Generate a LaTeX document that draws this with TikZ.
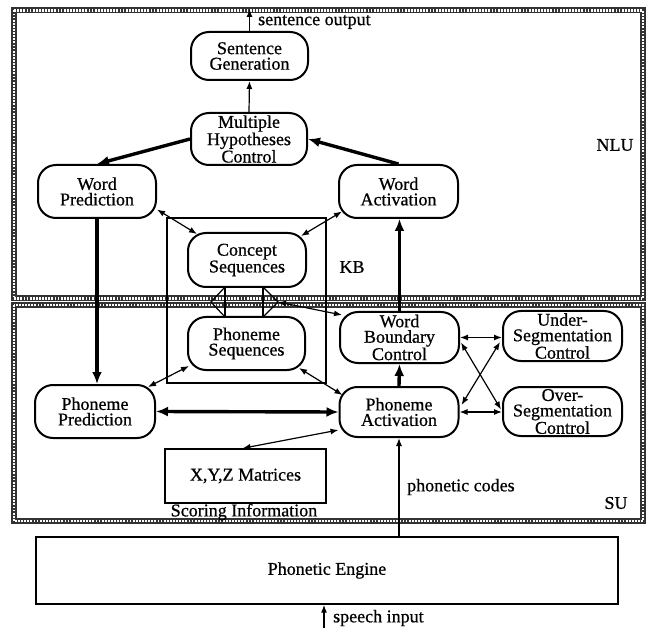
\documentclass[tikz,border=0pt]{standalone}
\usepackage{fontspec}
\setmainfont{Liberation Serif}[FakeBold=0.7]
\usetikzlibrary{arrows.meta,calc}
\begin{document}
\begin{tikzpicture}[x=1pt,y=-1pt,
  proc/.style={draw, line width=2pt, rounded corners=18pt, align=center, inner sep=0pt, font=\fontsize{18}{15.5}\selectfont},
  conn/.style={line width=1.2pt, -{Latex[length=8pt,width=6pt]}},
  connboth/.style={line width=1.2pt, {Latex[length=8pt,width=6pt]}-{Latex[length=8pt,width=6pt]}},
  heavy/.style={line width=3.4pt, -{Latex[length=12pt,width=10pt]}},
  heavyboth/.style={line width=3.4pt, {Latex[length=12pt,width=10pt]}-{Latex[length=12pt,width=10pt]}},
  lbl/.style={font=\fontsize{18}{15.5}\selectfont, inner sep=0pt},
  frameband/.style={line width=6pt, black!80},
  framedots/.style={line width=2.6pt, white, dash pattern=on 1.8pt off 1.3pt},
  plainbox/.style={draw, line width=1.4pt, inner sep=0pt, font=\fontsize{18}{15.5}\selectfont}
]
\useasboundingbox (0,0) rectangle (648,628);

% frames
\draw[frameband] (14,10.5) rectangle (643,298.5);
\draw[framedots] (14,10.5) rectangle (643,298.5);
\draw[frameband] (14,305) rectangle (643,521);
\draw[framedots] (14,305) rectangle (643,521);

% KB rectangle
\draw[line width=1.1pt] (167,218) rectangle (326,383);

% nodes
\node[proc, minimum width=117pt, minimum height=48pt] (sg) at (249.5,56) {Sentence\\Generation};
\node[proc, minimum width=116pt, minimum height=52pt] (mhc) at (249,139) {Multiple\\Hypotheses\\Control};
\node[proc, minimum width=118pt, minimum height=53pt] (wp) at (97,191.5) {Word\\Prediction};
\node[proc, minimum width=119pt, minimum height=53pt] (wa) at (398.5,191.5) {Word\\Activation};
\node[proc, minimum width=118pt, minimum height=54pt] (cs) at (247,260) {Concept\\Sequences};
\node[proc, minimum width=117pt, minimum height=53pt] (ps) at (246.5,343.5) {Phoneme\\Sequences};
\node[proc, minimum width=119pt, minimum height=51pt] (wbc) at (399.5,337.5) {Word\\Boundary\\Control};
\node[proc, minimum width=119pt, minimum height=50pt] (usc) at (562.5,336) {Under-\\Segmentation\\Control};
\node[proc, minimum width=120pt, minimum height=53pt] (pp) at (95,411.5) {Phoneme\\Prediction};
\node[proc, minimum width=119pt, minimum height=50pt] (pa) at (399,412) {Phoneme\\Activation};
\node[proc, minimum width=119pt, minimum height=49pt] (osc) at (562.5,411.5) {Over-\\Segmentation\\Control};

\node[plainbox, minimum width=161pt, minimum height=54pt] (xyz) at (245.5,476) {X,Y,Z Matrices};
\node[plainbox, minimum width=582pt, minimum height=67pt] (pe) at (327,570.5) {Phonetic Engine};

% labels
\node[lbl, anchor=west] (lso) at (258,22) {sentence output};
\node[lbl] (lnlu) at (615,145) {NLU};
\node[lbl] (lkb) at (352,267) {KB};
\node[lbl] (lsu) at (616,503) {SU};
\node[lbl, anchor=west] (lpc) at (407,487) {phonetic codes};
\node[lbl] (lsi) at (244,512) {Scoring Information};
\node[lbl, anchor=west] (lsp) at (333,618) {speech input};

% coordinates
\coordinate (so) at (247,9);
\coordinate (si) at (324,628);
\coordinate (h1) at (225,287);
\coordinate (h2) at (263,287);
\coordinate (h3) at (278,302);
\coordinate (h4) at (263,317);
\coordinate (h5) at (225,317);
\coordinate (h6) at (211,302);

% connectors
\draw[conn] (sg.north) -- (sg.north |- so);
\draw[conn] (mhc.north) -- (sg.south);
\draw[heavy] (mhc.west) -- (wp.north);
\draw[heavy] (wa.north) -- (mhc.east);
\draw[heavy] (wp.south) -- (wp.south |- pp.north);
\draw[heavy] (wbc.north) -- (wbc.north |- wa.south);
\draw[heavy] (pa.north) -- (wbc.south);
\draw[heavyboth] (pp.east) -- (pa.west);

\draw[connboth] ($(wp.east)+(0,18)$) -- ($(cs.north west)+(10,2)$);
\draw[connboth] ($(wa.west)+(4,20)$) -- ($(cs.north east)+(-6,4)$);
\draw[connboth] ($(ps.south west)+(2,-5)$) -- ($(pp.north east)+(-8,3)$);
\draw[connboth] ($(ps.south east)+(-7,-3)$) -- ($(pa.west)+(4,-17)$);
\draw[connboth] (wbc.east) -- (usc.west |- wbc.east);
\draw[connboth] (pa.east) -- (osc.west |- pa.east);
\draw[connboth] ($(wbc.east)+(1,5)$) -- ($(osc.west)+(-1,-2)$);
\draw[connboth] ($(usc.west)+(-2,6)$) -- ($(pa.east)+(2,-7)$);
\draw[connboth] ($(xyz.north)+(-3,0)$) -- ($(pa.west)+(0,18)$);
\draw[conn] (pa.south |- pe.north) -- (pa.south);
\draw[conn] (si) -- (si |- pe.south);

% crossing links between concept and phoneme sequences
\draw[line width=1.2pt] (h1) -- (h6) -- (h5);
\draw[line width=1.2pt] (h2) -- (h3) -- (h4);
\draw[line width=1.2pt] (h1) -- (h5);
\draw[line width=1.2pt] (h2) -- (h4);
\draw[connboth] (h3) -- ($(wbc.north west)+(3,4)$);
\end{tikzpicture}
\end{document}
